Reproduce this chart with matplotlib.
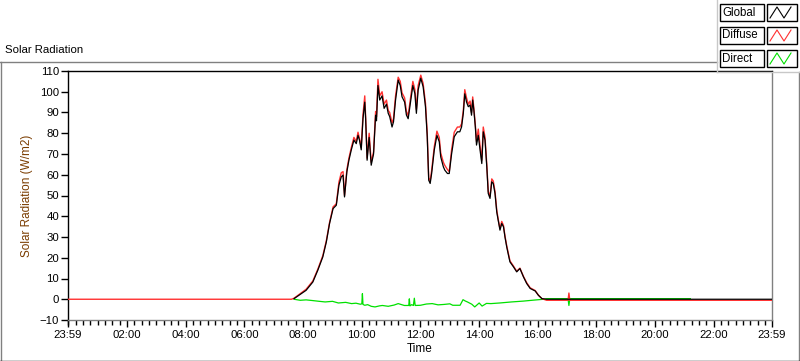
import numpy as np
import matplotlib
matplotlib.use("Agg")
import matplotlib.pyplot as plt
from matplotlib.lines import Line2D
from matplotlib.patches import Rectangle
from matplotlib.ticker import FixedLocator, MultipleLocator

plt.rcParams['font.family'] = ['Liberation Sans', 'DejaVu Sans']

# ---------------------------- DATA (hours of day) ----------------------------
START = -1 / 60          # 23:59 previous day
END = 24 - 1 / 60        # 23:59

global_t = [7.69, 8.10, 8.33, 8.50, 8.67, 8.79, 8.90, 9.02, 9.13, 9.22, 9.30, 9.36,
            9.41, 9.49, 9.56, 9.64, 9.73, 9.81, 9.87, 9.92, 9.98, 10.04, 10.10, 10.13,
            10.18, 10.25, 10.32, 10.40, 10.47, 10.50, 10.55, 10.61, 10.69, 10.76, 10.84,
            10.90, 10.95, 11.03, 11.08, 11.15, 11.24, 11.31, 11.37, 11.46, 11.52, 11.58,
            11.67, 11.74, 11.81, 11.86, 11.92, 12.01, 12.09, 12.17, 12.23, 12.28, 12.33,
            12.38, 12.47, 12.56, 12.64, 12.69, 12.78, 12.83, 12.92, 12.98, 13.06, 13.15,
            13.26, 13.34, 13.40, 13.46, 13.51, 13.57, 13.63, 13.69, 13.74, 13.78, 13.82,
            13.87, 13.91, 13.97, 14.03, 14.09, 14.14, 14.20, 14.26, 14.31, 14.37, 14.43,
            14.48, 14.54, 14.60, 14.65, 14.71, 14.77, 14.83, 14.88, 14.94, 15.00, 15.05,
            15.17, 15.28, 15.39, 15.51, 15.62, 15.74, 15.91, 16.02, 16.14, 16.30, 23.98]
global_v = [0.3, 4.3, 8.3, 14.0, 20.4, 27.6, 36.5, 43.7, 45.3, 55.0, 59.0, 59.8,
            49.3, 61.4, 67.0, 71.9, 76.7, 75.0, 79.0, 76.7, 72.0, 87.0, 95.0, 87.0,
            67.0, 78.0, 64.6, 70.0, 88.7, 86.0, 103.0, 96.0, 98.0, 92.0, 94.0,
            89.6, 88.0, 83.0, 85.5, 96.0, 105.6, 103.0, 97.6, 95.0, 88.8, 87.0,
            96.0, 103.0, 99.0, 89.6, 100.8, 106.5, 102.4, 92.8, 78.3, 57.4, 55.8,
            60.6, 71.9, 79.0, 75.9, 68.6, 63.8, 62.2, 60.6, 60.6, 70.0, 78.3,
            80.7, 80.7, 83.0, 89.6, 99.0, 95.0, 92.8, 93.6, 88.7, 96.0, 91.0,
            83.0, 74.3, 79.0, 72.0, 65.4, 80.7, 76.7, 63.8, 51.0, 48.6, 56.6,
            55.8, 51.0, 42.0, 38.0, 33.3, 36.5, 34.9, 30.0, 25.2, 21.2, 18.0,
            15.6, 13.2, 14.8, 10.8, 7.6, 5.2, 4.0, 1.9, 0.3, 0.0, 0.0]

diffuse_t = [START, 7.60] + global_t[:-2] + [16.30, 17.03, 17.06, 17.09, 23.98]
diffuse_v = [0.0, 0.0,
             0.5, 4.8, 8.8, 14.5, 21.0, 28.2, 37.0, 44.5, 46.0, 56.5, 61.0, 61.5,
             50.0, 62.5, 68.0, 73.0, 78.0, 76.0, 80.5, 77.5, 73.0, 89.0, 98.0, 88.0,
             68.0, 80.0, 66.0, 71.0, 90.5, 88.0, 106.0, 98.0, 100.0, 94.0, 96.0,
             91.0, 90.0, 85.0, 87.0, 98.0, 107.0, 105.0, 99.5, 97.0, 90.5, 88.5,
             98.0, 105.0, 101.0, 91.5, 103.0, 108.0, 104.0, 94.5, 80.0, 58.5, 57.0,
             62.0, 73.5, 81.0, 78.0, 70.5, 66.0, 64.5, 62.5, 61.5, 72.0, 80.5,
             83.0, 83.0, 84.5, 91.0, 101.0, 97.0, 94.0, 95.5, 90.0, 97.5, 92.0,
             84.0, 76.0, 82.0, 74.0, 67.0, 83.0, 78.0, 65.0, 52.0, 49.5, 58.0,
             57.0, 52.0, 43.0, 38.5, 34.0, 37.5, 35.5, 30.5, 25.8, 21.8, 18.5,
             16.0, 13.5, 15.0, 11.0, 8.0, 5.5, 4.2, 2.0, 0.3,
             -0.5, -0.5, 3.0, -0.5, -0.5]

direct_t = [7.69, 7.90, 8.10, 8.30, 8.55, 8.75, 9.00, 9.20, 9.45, 9.65, 9.80, 9.95,
            10.00, 10.02, 10.04, 10.10, 10.20, 10.32, 10.45, 10.60, 10.70, 10.90, 11.10,
            11.24, 11.45, 11.60, 11.62, 11.64, 11.70, 11.76, 11.79, 11.82, 12.00, 12.20,
            12.40, 12.60, 12.80, 13.00, 13.10, 13.35, 13.45, 13.52, 13.60, 13.75, 13.85,
            14.00, 14.10, 14.25, 14.40, 14.70, 15.10, 15.50, 15.80, 16.20, 16.30, 17.03,
            17.06, 17.09, 21.20]
direct_v = [0.0, -0.5, -0.3, -0.6, -1.0, -1.3, -1.0, -1.8, -1.5, -2.1, -1.9, -2.4,
            -2.2, 2.7, -2.5, -2.9, -2.6, -3.4, -3.7, -3.2, -3.0, -3.4, -2.8,
            -2.1, -3.0, -3.0, 0.2, -3.2, -2.6, -3.0, 0.5, -3.0, -2.9, -2.3,
            -2.1, -2.7, -2.5, -2.2, -2.9, -2.9, -0.2, -0.8, -1.3, -2.4, -3.7,
            -1.8, -3.3, -2.0, -2.1, -1.8, -1.3, -0.9, -0.5, 0.0, 0.3, 0.3,
            -3.0, 0.3, 0.3]

x_major = [START, 2, 4, 6, 8, 10, 12, 14, 16, 18, 20, 22, END]
x_labels = ["23:59", "02:00", "04:00", "06:00", "08:00", "10:00", "12:00",
            "14:00", "16:00", "18:00", "20:00", "22:00", "23:59"]
legend_names = ["Global", "Diffuse", "Direct"]
legend_colors = ["black", "#ff3030", "#00e000"]

# ---------------------------- FIGURE ----------------------------------------
W, H = 800, 361
fig = plt.figure(figsize=(W / 100, H / 100), dpi=100)


def fx(x):
    return x / W


def fy(y):
    return 1 - y / H


# outer panel frame
gray = "#808080"
fig.add_artist(Line2D([fx(0), fx(717)], [fy(61.5), fy(61.5)], color=gray, lw=1))
fig.add_artist(Line2D([fx(0.5), fx(0.5)], [fy(61.5), fy(361)], color=gray, lw=1))
fig.add_artist(Line2D([fx(798.5), fx(798.5)], [fy(72), fy(361)], color=gray, lw=1))
fig.add_artist(Line2D([fx(0), fx(800)], [fy(360.5), fy(360.5)], color="black", lw=1))
fig.text(fx(5), fy(50), "Solar Radiation", fontsize=8.2, va="center", ha="left")

ax = fig.add_axes([fx(68), fy(320), fx(772 - 68), (320 - 71) / H])
ax.plot(direct_t, direct_v, color=legend_colors[2], lw=0.9, zorder=2)
ax.plot(diffuse_t, diffuse_v, color=legend_colors[1], lw=1.0, zorder=3)
ax.plot(global_t, global_v, color=legend_colors[0], lw=0.9, zorder=4)

ax.set_xlim(START, END)
ax.set_ylim(-10, 110)
ax.yaxis.set_major_locator(MultipleLocator(10))
ax.xaxis.set_major_locator(FixedLocator(x_major))
ax.set_xticklabels(x_labels)
ax.xaxis.set_minor_locator(FixedLocator(np.arange(0, 24, 0.25)))
ax.tick_params(axis="both", which="major", direction="out", length=5, width=1,
               labelsize=8.2, pad=1.5)
ax.tick_params(axis="x", which="minor", direction="out", length=3.5, width=1)
ax.tick_params(axis="x", which="major", length=5, pad=2)
for s in ["top", "left"]:
    ax.spines[s].set_color("black")
for s in ["right", "bottom"]:
    ax.spines[s].set_color(gray)
for s in ax.spines.values():
    s.set_linewidth(1)
ax.set_ylabel("Solar Radiation (W/m2)", color="#7a3c00", fontsize=8.5, labelpad=5)
ax.set_xlabel("Time", fontsize=8.5, labelpad=2)

# legend (LabVIEW-style plot legend)
fig.add_artist(Line2D([fx(716.5), fx(716.5)], [fy(0), fy(72)], color="#c8c8c8", lw=1))
fig.add_artist(Line2D([fx(716.5), fx(800)], [fy(72), fy(72)], color="#c8c8c8", lw=1))
rows = [4, 27, 50]
for top, name, col in zip(rows, legend_names, legend_colors):
    fig.add_artist(Rectangle((fx(720), fy(top + 17)), fx(44), 17 / H,
                             fill=False, ec="black", lw=1))
    fig.text(fx(722), fy(top + 8.5), name, fontsize=8.3, va="center", ha="left")
    fig.add_artist(Rectangle((fx(767), fy(top + 17)), fx(30), 17 / H,
                             fill=False, ec="black", lw=1))
    ix = [fx(770), fx(777), fx(784), fx(791)]
    iy = [fy(top + 14), fy(top + 3), fy(top + 14), fy(top + 3)]
    fig.add_artist(Line2D(ix, iy, color=col, lw=0.8))

fig.savefig("out.png", dpi=100)
